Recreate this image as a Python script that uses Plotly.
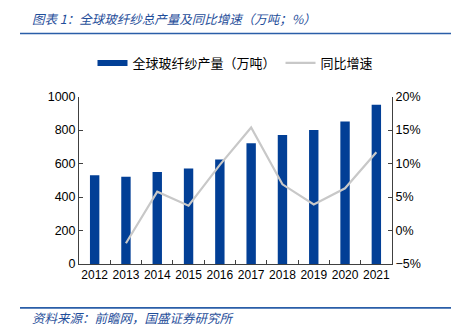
import plotly.graph_objects as go

years = ["2012", "2013", "2014", "2015", "2016", "2017", "2018", "2019", "2020", "2021"]
output_kt = [531, 521, 550, 570, 625, 722, 771, 801, 852, 951]
growth_pct = [None, -1.9, 5.8, 3.7, 9.8, 15.4, 6.9, 3.9, 6.3, 11.7]

BLUE = "#023f96"
GREY = "#c8c8c8"
AXIS = "#404040"
CJK = "Noto Sans CJK SC, Liberation Sans, sans-serif"
NUM = "Liberation Sans, Arial, sans-serif"

fig = go.Figure()

fig.add_trace(go.Bar(
    x=years, y=output_kt, marker=dict(color=BLUE, line=dict(width=0)),
    width=0.3, showlegend=False, name="全球玻纤纱产量（万吨）",
))
fig.add_trace(go.Scatter(
    x=years, y=growth_pct, yaxis="y2", mode="lines",
    line=dict(color=GREY, width=2.2), showlegend=False, name="同比增速",
))

# legend entries drawn as wide line keys
fig.add_trace(go.Scatter(x=[None], y=[None], mode="lines",
                         line=dict(color=BLUE, width=6), name="全球玻纤纱产量（万吨）"))
fig.add_trace(go.Scatter(x=[None], y=[None], mode="lines",
                         line=dict(color=GREY, width=2.2), name="同比增速"))

fig.update_layout(
    width=461, height=328,
    margin=dict(l=79, r=69, t=95, b=64),
    paper_bgcolor="white", plot_bgcolor="white",
    font=dict(family=NUM, size=12, color="#000000"),
    bargap=0.7,
    legend=dict(orientation="h", x=0.5, xanchor="center", y=1 - 63 / 328,
                yref="container", yanchor="middle",
                font=dict(family=CJK, size=13, color="#000"),
                itemwidth=30, tracegroupgap=0, bgcolor="rgba(0,0,0,0)"),
    xaxis=dict(
        type="category", showline=True, linecolor=AXIS, linewidth=1,
        ticks="inside", ticklen=4, tickcolor=AXIS, tickson="boundaries",
        showgrid=False, tickangle=0, tickfont=dict(family=NUM, size=12),
    ),
    yaxis=dict(
        range=[0, 1000], dtick=200, showline=True, linecolor=AXIS, linewidth=1,
        ticks="inside", ticklen=4, tickcolor=AXIS, showgrid=False, zeroline=False,
        tickfont=dict(family=NUM, size=12.5),
    ),
    yaxis2=dict(
        overlaying="y", side="right", range=[-5, 20], dtick=5, ticksuffix="%",
        showline=True, linecolor=AXIS, linewidth=1, ticks="inside", ticklen=4,
        tickcolor=AXIS, showgrid=False, zeroline=False,
        tickfont=dict(family=NUM, size=12.5),
    ),
)

# header and footer
fig.add_annotation(
    text="图表 1：全球玻纤纱总产量及同比增速（万吨；%）",
    xref="paper", yref="paper", x=(30 - 79) / 313, y=1 + (95 - 16) / 169,
    xanchor="left", yanchor="middle", showarrow=False,
    font=dict(family=CJK, size=12.5, color="#1f4e9a", style="italic"),
)
fig.add_annotation(
    text="资料来源：前瞻网，国盛证券研究所",
    xref="paper", yref="paper", x=(30 - 79) / 313, y=-(318 - 263.7) / 169,
    xanchor="left", yanchor="middle", showarrow=False,
    font=dict(family=CJK, size=12.5, color="#1f4e9a", style="italic"),
)
for ypix in (31, 308):
    fig.add_shape(type="line", xref="paper", yref="paper",
                  x0=(20 - 79) / 313, x1=(451 - 79) / 313,
                  y0=(263.7 - ypix) / 169, y1=(263.7 - ypix) / 169,
                  line=dict(color="#2a5ea8", width=1.6))

fig.write_html("out.html")
